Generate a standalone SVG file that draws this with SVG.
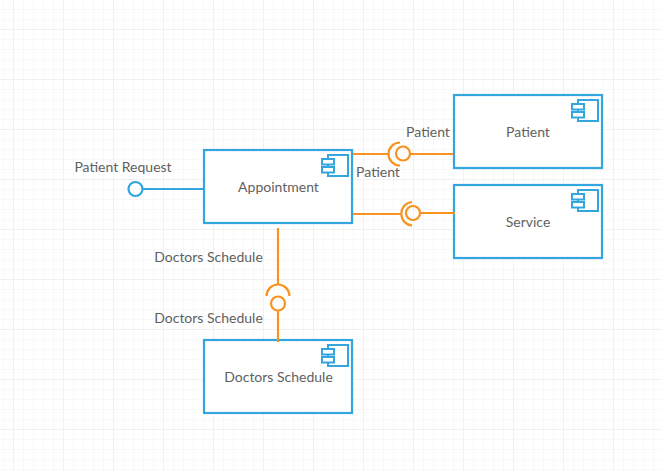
<svg xmlns="http://www.w3.org/2000/svg" width="662" height="471" viewBox="0 0 662 471">
<style>
.box{fill:#fff;stroke:#33a6e0;stroke-width:2.200}
.ic{fill:#fff;stroke:#33a6e0;stroke-width:2}
.o{fill:none;stroke:#f7931e;stroke-width:2.200}
.b{fill:none;stroke:#33a6e0;stroke-width:2.200}
text{font-family:Lato,"Liberation Sans",sans-serif;font-size:14px;fill:#5f5f5f}
.m{text-anchor:middle}
</style>
<defs>
<pattern id="g" width="10" height="10" patternUnits="userSpaceOnUse" x="3" y="9"><path d="M0.5 0V10M0 0.5H10" fill="none" stroke="#f8f8f8" stroke-width="1"/></pattern>
<pattern id="G" width="50" height="50" patternUnits="userSpaceOnUse" x="13" y="29"><path d="M0.5 0V50M0 0.5H50" fill="none" stroke="#f1f1f1" stroke-width="1"/></pattern>
<g id="icon"><path class="ic" d="M-20 0H0V21H-20Z"/><rect class="ic" x="-26" y="4" width="12" height="5.500"/><rect class="ic" x="-26" y="12" width="12" height="5.500"/></g>
</defs>
<rect width="662" height="471" fill="#fff"/>
<rect width="662" height="471" fill="url(#g)"/>
<rect width="662" height="471" fill="url(#G)"/>
<g id="appointment"><rect class="box" x="204" y="150" width="148" height="73"/><use href="#icon" x="348" y="155"/><text class="m" x="278.500" y="192">Appointment</text></g>
<g id="patient"><rect class="box" x="454" y="95" width="148" height="73"/><use href="#icon" x="598" y="100"/><text class="m" x="528" y="137">Patient</text></g>
<g id="service"><rect class="box" x="454" y="185" width="148" height="73"/><use href="#icon" x="598" y="190"/><text class="m" x="528" y="227">Service</text></g>
<g id="doctors-schedule"><rect class="box" x="204" y="340" width="148" height="73"/><use href="#icon" x="348" y="345"/><text class="m" x="278.500" y="382">Doctors Schedule</text></g>
<g id="connectors">
<path class="b" d="M143 189H204"/>
<circle class="b" cx="135.500" cy="189" r="7"/>
<path class="o" d="M353 154H388.500M410 154H453"/>
<path class="o" d="M400 142.500A11.500 11.500 0 0 0 400 165.500"/>
<circle class="o" cx="403" cy="153.500" r="7"/>
<path class="o" d="M353 214H400.500M420 213H455"/>
<path class="o" d="M412 202A11.800 11.800 0 0 0 412 225.500"/>
<circle class="o" cx="413" cy="213" r="7"/>
<path class="o" d="M278 228V284M278 311V342"/>
<path class="o" d="M266.500 296A11.500 11.500 0 0 1 289.500 296"/>
<circle class="o" cx="278" cy="303.500" r="7"/>
</g>
<g id="labels">
<text class="m" x="123" y="172">Patient Request</text>
<text class="m" x="428" y="137">Patient</text>
<text class="m" x="378" y="177">Patient</text>
<text class="m" x="208.500" y="262">Doctors Schedule</text>
<text class="m" x="208.500" y="323">Doctors Schedule</text>
</g>
</svg>
